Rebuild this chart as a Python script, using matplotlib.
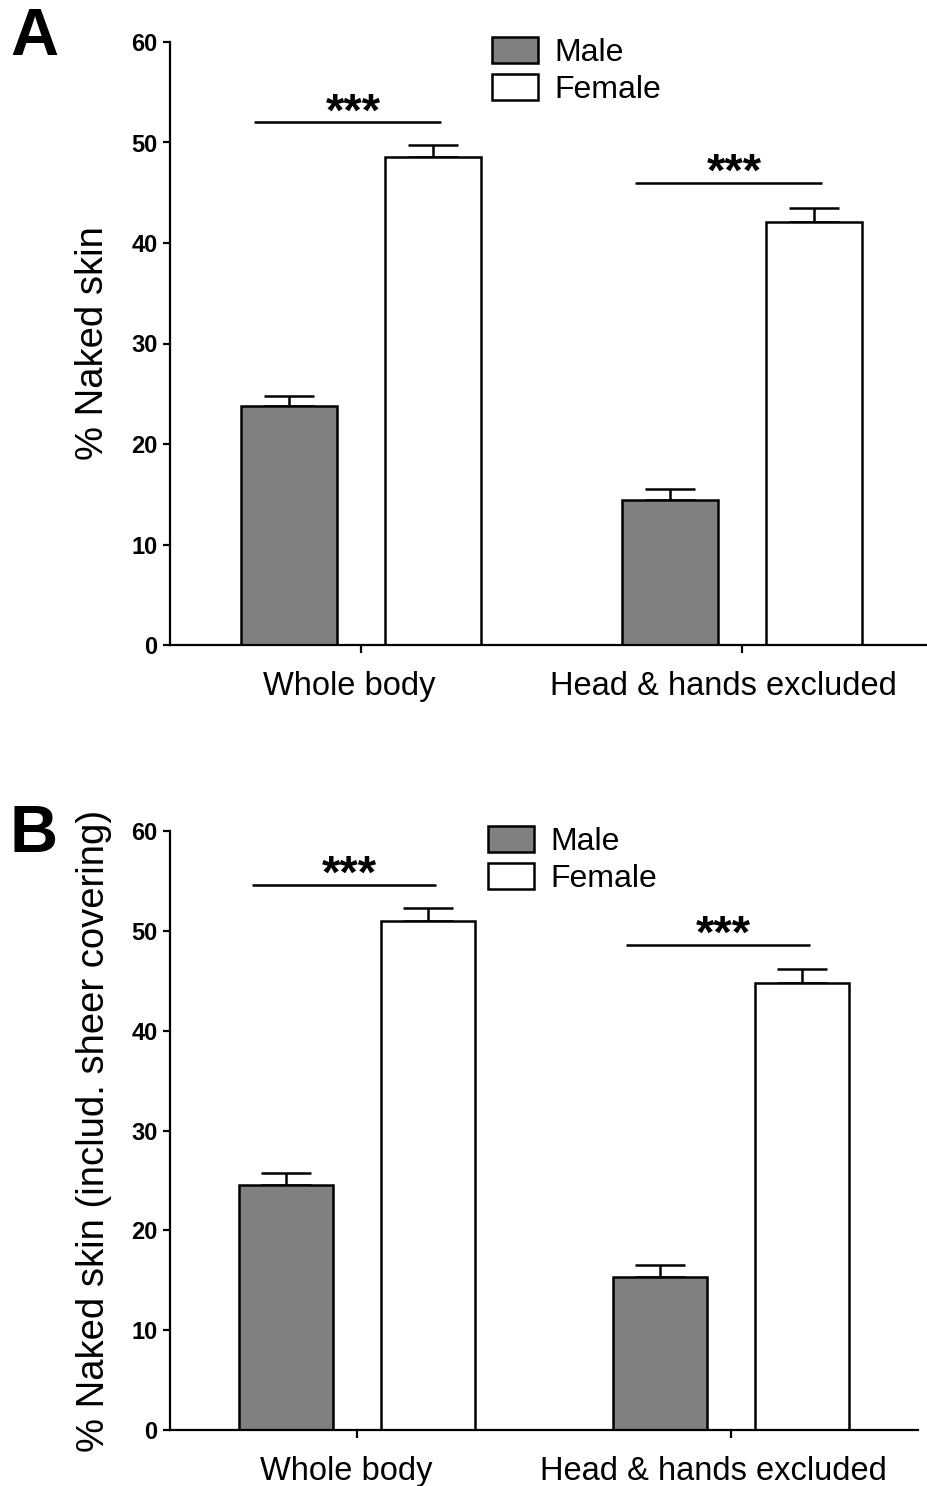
import matplotlib
matplotlib.use("Agg")
import matplotlib.pyplot as plt
import matplotlib.transforms as mtransforms
import numpy as np

plt.rcParams['font.family'] = ['Liberation Sans', 'DejaVu Sans']

groups = ["Whole body", "Head & hands excluded"]
sexes = ["Male", "Female"]

# panel A: % naked skin (mean, SEM)
a_male = [23.8, 14.4]
a_male_err = [1.0, 1.1]
a_female = [48.6, 42.1]
a_female_err = [1.2, 1.4]
a_sig = [52.0, 46.0]

# panel B: % naked skin incl. sheer covering
b_male = [24.5, 15.3]
b_male_err = [1.2, 1.2]
b_female = [51.0, 44.8]
b_female_err = [1.3, 1.4]
b_sig = [54.6, 48.6]

W, H = 927, 1486
fig = plt.figure(figsize=(W / 100, H / 100), dpi=100)


def draw_panel(rect, male, male_err, female, female_err, sig, ylabel, xmax, letter, letter_y):
    ax = fig.add_axes(rect)
    x = np.arange(len(groups))
    w = 0.252
    off = 0.189
    ax.bar(x - off, male, w, color='#808080', edgecolor='black', linewidth=1.8, label=sexes[0], zorder=2)
    ax.bar(x + off, female, w, color='white', edgecolor='black', linewidth=1.8, label=sexes[1], zorder=2)
    for xs, vals, errs in ((x - off, male, male_err), (x + off, female, female_err)):
        ax.errorbar(xs, vals, yerr=[np.zeros(len(errs)), errs], fmt='none', ecolor='black',
                    elinewidth=1.8, capsize=18, capthick=1.8, zorder=1)

    # significance bars
    for xi, s in zip(x, sig):
        ax.plot([xi - 0.28, xi + 0.21], [s, s], color='black', linewidth=1.8, solid_capstyle='butt')
        ax.text(xi - 0.02, s - 0.3, '***', ha='center', va='baseline', fontsize=34, fontweight='bold')

    ax.set_xlim(-0.5, xmax)
    ax.set_ylim(0, 60)
    ax.set_yticks(np.arange(0, 61, 10))
    ax.set_xticks(x)
    ax.set_xticklabels(groups, fontsize=23.5)
    for lab in ax.get_yticklabels():
        lab.set_fontsize(17)
        lab.set_fontweight('bold')

    for s in ['top', 'right']:
        ax.spines[s].set_visible(False)
    for s in ['left', 'bottom']:
        ax.spines[s].set_linewidth(1.6)
    ax.tick_params(axis='y', direction='out', length=5, width=1.6, pad=4)
    ax.tick_params(axis='x', direction='out', length=6, width=1.6, pad=13)

    # group labels sit a little left of the tick marks
    for lab, dx in zip(ax.get_xticklabels(), [-11, -18]):
        lab.set_transform(lab.get_transform() + mtransforms.ScaledTranslation(dx / 100, 0, fig.dpi_scale_trans))

    ax.set_ylabel(ylabel, fontsize=27.5)
    ax.yaxis.set_label_coords(-0.078, 0.5)

    ax.legend(loc='upper left', bbox_to_anchor=(0.425, 1.008), frameon=False, fontsize=23,
              handlelength=1.45, handleheight=0.85, handletextpad=0.5, labelspacing=0.2,
              borderpad=0, borderaxespad=0)

    fig.text(10 / W, letter_y, letter, fontsize=48, fontweight='bold', ha='left', va='top')
    return ax


draw_panel([170 / W, 1 - 645 / H, (927 - 170) / W, 603 / H],
           a_male, a_male_err, a_female, a_female_err, a_sig,
           '% Naked skin', 1.486, 'A', 1 - 7 / H)
draw_panel([170 / W, 1 - 1430 / H, (918 - 170) / W, 599 / H],
           b_male, b_male_err, b_female, b_female_err, b_sig,
           '% Naked skin (includ. sheer covering)', 1.5, 'B', 1 - 804 / H)

fig.savefig('out.png', dpi=100)
